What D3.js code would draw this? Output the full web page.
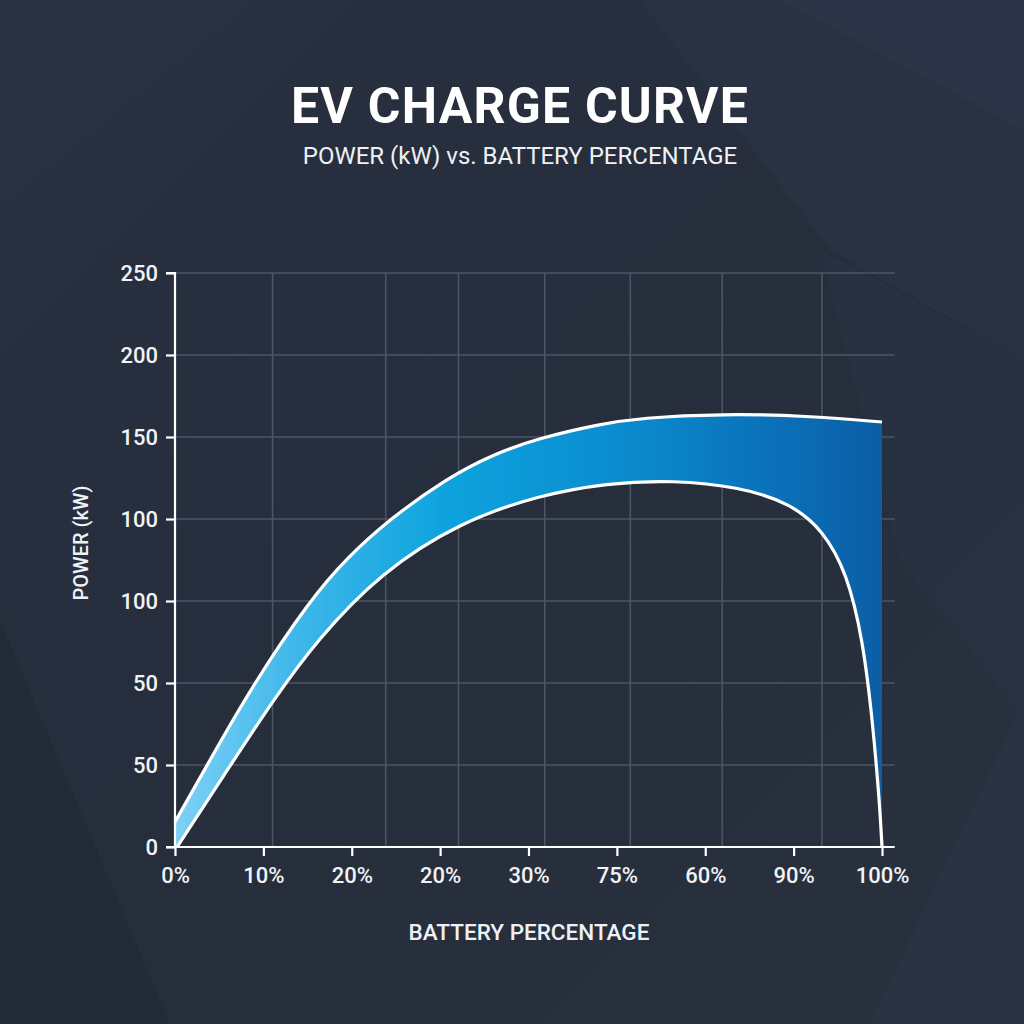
<!DOCTYPE html>
<html>
<head>
<meta charset="utf-8">
<script src="https://cdn.jsdelivr.net/npm/d3@7"></script>
<style>
  html, body { margin: 0; padding: 0; background: #273040; }
  svg { display: block; }
</style>
</head>
<body>
<svg id="chart" width="1024" height="1024"></svg>
<script>
// ---- Data ----
const title = "EV CHARGE CURVE";
const subtitle = "POWER (kW) vs. BATTERY PERCENTAGE";
const xAxisTitle = "BATTERY PERCENTAGE";
const yAxisTitle = "POWER (kW)";

// x tick labels as printed (evenly spaced along 0..100)
const xTickLabels = ["0%", "10%", "20%", "20%", "30%", "75%", "60%", "90%", "100%"];
// y tick labels as printed, bottom to top (evenly spaced along 0..250)
const yTickLabels = ["0", "50", "50", "100", "100", "150", "200", "250"];
// vertical grid line positions (battery %), irregular as in the reference
const gridX = [13.8, 29.8, 40.1, 52.3, 64.4, 77.4, 91.5];
const gridXEnd = 101.8;

// upper edge of the band: battery % and power
const upperPct   = [0, 4.95, 10.9, 19.1, 24.3, 30.4, 38.5, 45.0, 51.6, 60.1, 65.8, 77.5, 89.4, 100];
const upperPower = [10.9, 37.9, 70.1, 107.6, 125.9, 142.9, 160.7, 171.1, 178.2, 184.2, 186.9, 188.7, 187.8, 185.1];
// lower edge of the band
const lowerPct   = [0.3, 7.4, 13.9, 20.1, 29.0, 40.3, 51.6, 61.1, 70.4, 79.9, 87.0, 91.65, 95.05, 97.3, 98.7, 99.7, 100];
const lowerPower = [0, 33.5, 64.0, 90.2, 119.3, 141.6, 153.3, 158.5, 159.8, 156.8, 149.8, 138.1, 119.3, 90.2, 54.0, 17.4, 0];

// ---- Layout ----
const W = 1024, H = 1024;
const pLeft = 175, pRight = 882, pTop = 273, pBottom = 847;
const svg = d3.select("#chart");
const FONT = "Roboto, 'Noto Sans', sans-serif";

const x = d3.scaleLinear().domain([0, 100]).range([pLeft, pRight]);
const y = d3.scaleLinear().domain([0, 250]).range([pBottom, pTop]);

// ---- Background ----
const defs = svg.append("defs");
const bg = defs.append("linearGradient").attr("id", "bg").attr("x1", 0).attr("y1", 0).attr("x2", 1).attr("y2", 1);
bg.append("stop").attr("offset", "0%").attr("stop-color", "#283041");
bg.append("stop").attr("offset", "55%").attr("stop-color", "#262e3c");
bg.append("stop").attr("offset", "100%").attr("stop-color", "#29313f");
svg.append("rect").attr("width", W).attr("height", H).attr("fill", "url(#bg)");
const facets = [
  [[640, 0], [1024, 0], [1024, 360], [830, 250]],
  [[780, 0], [1024, 0], [1024, 130]],
  [[820, 250], [1024, 360], [1024, 720], [900, 560]],
  [[0, 620], [170, 1024], [0, 1024]],
  [[1024, 700], [870, 1024], [1024, 1024]],
  [[0, 0], [260, 0], [0, 210]]
];
const facetFill = ["#2b3446", "#2e374a", "#2a3344", "#222a37", "#2b3445", "#2a3243"];
svg.append("g").selectAll("path").data(facets).join("path")
  .attr("d", d => "M" + d.join("L") + "Z")
  .attr("fill", (d, i) => facetFill[i])
  .attr("opacity", 0.75);

// ---- Grid ----
const yTickVals = yTickLabels.map((d, i) => i * 250 / (yTickLabels.length - 1));
const xTickVals = xTickLabels.map((d, i) => i * 100 / (xTickLabels.length - 1));

const grid = svg.append("g").attr("stroke", "#4d5667").attr("stroke-width", 1.5);
grid.selectAll(".h").data(yTickVals.slice(1)).join("line")
  .attr("x1", pLeft).attr("x2", x(gridXEnd))
  .attr("y1", d => y(d)).attr("y2", d => y(d));
grid.selectAll(".v").data(gridX).join("line")
  .attr("x1", d => x(d)).attr("x2", d => x(d))
  .attr("y1", pTop).attr("y2", pBottom);

// ---- Band ----
const grad = defs.append("linearGradient").attr("id", "band")
  .attr("gradientUnits", "userSpaceOnUse")
  .attr("x1", pLeft).attr("y1", 0).attr("x2", pRight).attr("y2", 0);
[["0%", "#7dd1f6"], ["17%", "#3fb7ea"], ["38%", "#0ea3de"], ["62%", "#0a8dcf"], ["86%", "#0a6fb8"], ["100%", "#0c5ea5"]]
  .forEach(s => grad.append("stop").attr("offset", s[0]).attr("stop-color", s[1]));

const upper = upperPct.map((p, i) => [p, upperPower[i]]);
const lower = lowerPct.map((p, i) => [p, lowerPower[i]]);
const line = d3.line().x(d => x(d[0])).y(d => y(d[1])).curve(d3.curveBasis);

const upperPath = line(upper);
const lowerRevPath = line(lower.slice().reverse());
const bandPath = upperPath + "L" + lowerRevPath.slice(1) + "L" + x(0) + "," + y(0) + "Z";
svg.append("path").attr("d", bandPath).attr("fill", "url(#band)");

svg.append("path").attr("d", upperPath).attr("fill", "none").attr("stroke", "#ffffff")
  .attr("stroke-width", 3.2).attr("stroke-linecap", "butt");
svg.append("path").attr("d", line(lower)).attr("fill", "none").attr("stroke", "#ffffff")
  .attr("stroke-width", 3.2).attr("stroke-linecap", "butt");

// ---- Axes ----
const yAxis = d3.axisLeft(y).tickValues(yTickVals).tickFormat((d, i) => yTickLabels[i]).tickSize(9).tickPadding(8);
const gy = svg.append("g").attr("transform", `translate(${pLeft},0)`).call(yAxis);
gy.select(".domain").attr("stroke", "#ffffff").attr("stroke-width", 2.2).attr("d", `M-9,${pTop}H0V${pBottom}`);
gy.selectAll(".tick line").attr("stroke", "#ffffff").attr("stroke-width", 2.2);
gy.selectAll(".tick text").attr("fill", "#f1f3f6").attr("font-family", FONT).attr("font-size", 22).attr("font-weight", 500);

const xAxis = d3.axisBottom(x).tickValues(xTickVals).tickFormat((d, i) => xTickLabels[i]).tickSize(9).tickPadding(11);
const gx = svg.append("g").attr("transform", `translate(0,${pBottom})`).call(xAxis);
gx.select(".domain").attr("stroke", "#ffffff").attr("stroke-width", 2.2).attr("d", `M${pLeft - 9},0H${x(gridXEnd)}`);
gx.selectAll(".tick line").attr("stroke", "#ffffff").attr("stroke-width", 2.2);
gx.selectAll(".tick text").attr("fill", "#f1f3f6").attr("font-family", FONT).attr("font-size", 22).attr("font-weight", 500);

// ---- Titles ----
svg.append("text").attr("x", 520).attr("y", 123).attr("text-anchor", "middle")
  .attr("fill", "#ffffff").attr("font-family", FONT).attr("font-weight", 700).attr("font-size", 50)
  .attr("letter-spacing", 1.2)
  .text(title);
svg.append("text").attr("x", 520).attr("y", 164).attr("text-anchor", "middle")
  .attr("fill", "#eef1f5").attr("font-family", FONT).attr("font-weight", 400).attr("font-size", 24)
  .text(subtitle);
svg.append("text").attr("x", 529).attr("y", 940).attr("text-anchor", "middle")
  .attr("fill", "#eef1f5").attr("font-family", FONT).attr("font-weight", 500).attr("font-size", 22.5)
  .text(xAxisTitle);
svg.append("text").attr("transform", "translate(88,543) rotate(-90)").attr("text-anchor", "middle")
  .attr("fill", "#eef1f5").attr("font-family", FONT).attr("font-weight", 500).attr("font-size", 20)
  .text(yAxisTitle);
</script>
</body>
</html>
